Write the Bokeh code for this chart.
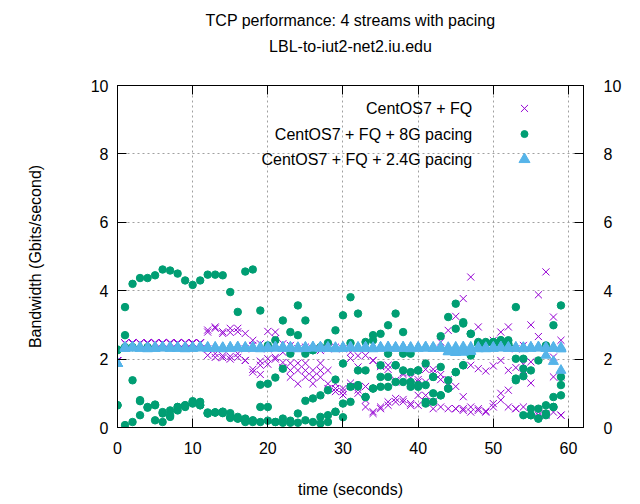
from bokeh.plotting import figure
from bokeh.models import Label, LinearAxis, Range1d, FixedTicker, ColumnDataSource, Title
from bokeh.embed import file_html
from bokeh.resources import INLINE

# ---------------- data ----------------
time = list(range(60))

fq_s1 = [1.95, 2.47, 2.47, 2.46, 2.47, 2.48, 2.47, 2.46, 2.47, 2.47, 2.48, 2.47,
         2.79, 2.94, 2.80, 2.78, 2.90, 2.75, 2.55, 2.45, 2.81, 2.60,
         2.45, 2.40, 2.30, 2.35, 2.30, 2.25, 2.30, 2.35, 2.30, 2.02,
         1.77, 2.11, 1.96, 1.78, 1.82, 1.38, 1.55, 1.45, 1.33, 1.70,
         1.60, 2.50, 2.84, 3.25, 3.77, 4.40, 2.94, 2.45, 2.55, 2.79,
         2.94, 2.30, 2.40, 3.00, 3.88, 4.55, 3.23, 2.55]
fq_s2 = [1.95, 2.47, 2.47, 2.47, 2.46, 2.47, 2.47, 2.48, 2.47, 2.47, 2.46, 2.47,
         2.11, 2.16, 2.04, 2.08, 2.16, 1.96, 1.62, 1.82, 2.01, 2.00,
         1.90, 1.88, 1.67, 1.88, 1.47, 1.67, 1.28, 1.14, 1.05, 1.20,
         1.00, 0.80, 0.41, 0.55, 0.65, 0.75, 0.82, 0.70, 0.65, 0.94,
         0.75, 0.60, 0.55, 0.55, 0.55, 0.60, 0.50, 0.45, 0.60, 0.80,
         1.09, 0.55, 0.60, 0.50, 0.45, 0.36, 0.45, 0.36]
fq_s3 = [1.95, 2.46, 2.47, 2.47, 2.47, 2.47, 2.46, 2.47, 2.47, 2.48, 2.47, 2.47,
         2.85, 2.90, 2.75, 2.90, 2.80, 2.30, 2.40, 1.94, 2.30, 2.79,
         2.20, 1.67, 1.88, 1.47, 1.67, 1.88, 1.67, 1.28, 1.14, 1.30,
         1.10, 1.20, 1.96, 1.82, 1.70, 1.33, 1.60, 1.25, 1.40, 1.33,
         1.70, 1.55, 1.40, 1.20, 0.90, 1.82, 1.72, 1.65, 1.80, 1.96,
         1.67, 1.75, 1.85, 1.92, 2.66, 2.20, 2.06, 1.48]
fq_s4 = [1.95, 2.47, 2.48, 2.47, 2.47, 2.46, 2.47, 2.47, 2.46, 2.47, 2.47, 2.48,
         2.30, 2.05, 2.10, 2.00, 2.05, 1.96, 1.70, 1.55, 1.85, 2.05,
         1.75, 1.47, 1.28, 1.67, 1.28, 1.47, 1.14, 1.05, 0.95, 2.20,
         2.10, 0.60, 0.46, 0.60, 0.75, 0.85, 0.75, 0.65, 0.94, 0.75,
         0.55, 1.40, 1.30, 0.55, 0.50, 0.45, 0.55, 0.48, 0.70, 1.00,
         0.60, 0.55, 1.67, 1.30, 0.36, 0.40, 1.48, 0.36]

p8_s1 = [2.28, 3.52, 4.20, 4.37, 4.37, 4.45, 4.62, 4.59, 4.50, 4.30,
         4.17, 4.30, 4.47, 4.47, 4.45, 3.96, 3.38, 4.56, 4.62, 3.42,
         2.40, 2.55, 3.13, 2.79, 3.57, 3.13, 2.26, 2.35, 2.47, 2.84,
         3.28, 3.81, 3.33, 2.50, 2.55, 2.74, 2.99, 3.33, 2.79, 2.16,
         1.67, 1.87, 1.48, 2.67, 3.23, 3.62, 3.08, 2.74, 2.45, 2.45,
         2.45, 2.45, 2.55, 3.52, 2.01, 1.67, 1.96, 2.40, 2.99, 3.57]
p8_s2 = [0.65, 0.07, 0.16, 0.36, 0.60, 0.21, 0.16, 0.31, 0.50, 0.60,
         0.75, 0.65, 0.41, 0.44, 0.46, 0.31, 0.26, 0.16, 0.16, 0.16,
         0.20, 0.16, 0.14, 0.20, 0.14, 0.21, 0.16, 0.12, 0.16, 0.46,
         0.70, 1.19, 1.24, 0.89, 1.14, 1.19, 1.48, 1.33, 1.33, 1.19,
         1.19, 0.70, 0.75, 0.94, 1.14, 1.62, 1.82, 2.11, 2.45, 2.45,
         2.50, 2.55, 2.40, 1.38, 0.36, 0.36, 0.26, 0.41, 0.60, 0.94]
p8_s3 = [2.26, 2.70, 1.38, 0.80, 0.58, 0.65, 0.41, 0.50, 0.60, 0.65,
         0.77, 0.65, 0.44, 0.44, 0.42, 0.28, 0.26, 0.21, 0.21, 0.60,
         1.28, 1.46, 1.72, 2.16, 2.70, 2.16, 2.26, 0.94, 1.09, 1.40,
         1.87, 2.47, 1.67, 1.67, 2.70, 1.82, 2.16, 1.82, 2.16, 1.33,
         1.67, 1.24, 1.48, 1.77, 1.38, 2.89, 3.04, 2.11, 2.50, 2.50,
         2.50, 2.55, 2.45, 1.43, 1.50, 0.55, 0.55, 0.65, 0.89, 1.24]
p8_s4 = [0.65, 2.35, 2.35, 0.77, 2.35, 0.67, 0.45, 0.36, 0.60, 0.65,
         0.70, 0.75, 0.41, 0.44, 0.46, 0.42, 0.31, 0.26, 0.20, 1.25,
         0.60, 0.16, 0.26, 0.14, 0.41, 0.78, 0.85, 0.31, 0.36, 0.46,
         0.30, 0.75, 1.20, 0.89, 1.14, 1.48, 1.19, 1.82, 1.67, 1.62,
         1.24, 0.75, 1.00, 0.94, 1.14, 1.62, 1.82, 2.74, 2.45, 2.45,
         2.45, 2.45, 2.40, 2.01, 1.72, 0.36, 0.26, 0.36, 0.60, 1.48]

p24_s1 = [1.87, 2.33, 2.34, 2.33, 2.32, 2.33, 2.34, 2.33, 2.33, 2.32,
          2.33, 2.34, 2.33, 2.33, 2.32, 2.33, 2.34, 2.33, 2.33, 2.32,
          2.33, 2.34, 2.35, 2.33, 2.32, 2.33, 2.34, 2.35, 2.33, 2.32,
          2.33, 2.34, 2.33, 2.35, 2.32, 2.33, 2.34, 2.33, 2.35, 2.32,
          2.33, 2.34, 2.33, 2.33, 2.22, 2.20, 2.21, 2.22, 2.30, 2.32,
          2.33, 2.34, 2.33, 2.33, 2.32, 2.33, 2.34, 2.11, 1.93, 1.67]
p24_s2 = [1.87, 2.31, 2.32, 2.31, 2.30, 2.31, 2.32, 2.31, 2.31, 2.30,
          2.31, 2.32, 2.31, 2.31, 2.30, 2.31, 2.32, 2.31, 2.31, 2.30,
          2.31, 2.32, 2.31, 2.31, 2.30, 2.31, 2.32, 2.31, 2.31, 2.30,
          2.31, 2.32, 2.31, 2.31, 2.30, 2.31, 2.32, 2.31, 2.31, 2.30,
          2.31, 2.32, 2.31, 2.31, 2.30, 2.31, 2.32, 2.31, 2.31, 2.30,
          2.31, 2.32, 2.31, 2.31, 2.30, 2.31, 2.32, 2.31, 2.31, 2.30]
p24_s3 = [1.87, 2.35, 2.36, 2.35, 2.34, 2.35, 2.36, 2.35, 2.35, 2.34,
          2.35, 2.36, 2.35, 2.35, 2.34, 2.35, 2.36, 2.35, 2.35, 2.34,
          2.35, 2.36, 2.35, 2.35, 2.34, 2.35, 2.36, 2.35, 2.35, 2.34,
          2.35, 2.36, 2.35, 2.35, 2.34, 2.35, 2.36, 2.35, 2.35, 2.34,
          2.35, 2.36, 2.35, 2.35, 2.34, 2.35, 2.36, 2.35, 2.35, 2.34,
          2.35, 2.36, 2.35, 2.35, 2.34, 2.35, 2.36, 2.35, 2.35, 2.34]
p24_s4 = [1.87, 2.32, 2.33, 2.34, 2.33, 2.32, 2.33, 2.34, 2.33, 2.32,
          2.33, 2.34, 2.33, 2.32, 2.33, 2.34, 2.33, 2.32, 2.33, 2.34,
          2.33, 2.32, 2.33, 2.34, 2.33, 2.32, 2.33, 2.34, 2.33, 2.32,
          2.33, 2.34, 2.33, 2.32, 2.33, 2.34, 2.33, 2.32, 2.33, 2.34,
          2.33, 2.32, 2.33, 2.34, 2.21, 2.19, 2.20, 2.24, 2.33, 2.32,
          2.33, 2.34, 2.33, 2.32, 2.33, 2.34, 2.33, 2.32, 2.33, 2.30]

series_names = ["CentOS7 + FQ", "CentOS7 + FQ + 8G pacing", "CentOS7 + FQ + 2.4G pacing"]
x_ticks = [0, 10, 20, 30, 40, 50, 60]
y_ticks = [0, 2, 4, 6, 8, 10]
title_lines = ["TCP performance: 4 streams with pacing", "LBL-to-iut2-net2.iu.edu"]
x_label = "time (seconds)"
y_label = "Bandwidth (Gbits/second)"

# ---------------- styles ----------------
FONT = "Liberation Sans"
C_FQ = "#9400d3"
C_8G = "#009e73"
C_24 = "#56b4e9"

p = figure(width=640, height=504, output_backend="svg", toolbar_location=None,
           x_range=Range1d(0, 62), y_range=Range1d(0, 10), title_location=None,
           min_border_left=117, min_border_right=57, min_border_top=85, min_border_bottom=77,
           background_fill_color="white", border_fill_color="white")
p.outline_line_color = "black"
p.outline_line_width = 1
p.outline_line_alpha = 1

bottom_axis = p.below[0]
left_axis = p.left[0]


def stack(*streams):
    xs, ys = [], []
    for s in streams:
        xs += time[:len(s)]
        ys += s
    return ColumnDataSource(dict(x=xs, y=ys))


src_fq = stack(fq_s1, fq_s2, fq_s3, fq_s4)
src_8g = stack(p8_s1, p8_s2, p8_s3, p8_s4)
src_24 = stack(p24_s1, p24_s2, p24_s3, p24_s4)

p.scatter("x", "y", source=src_fq, marker="x", size=10, line_color=C_FQ, line_width=1)
p.scatter("x", "y", source=src_8g, marker="circle", size=7.5, fill_color=C_8G, line_color=C_8G)
p.scatter("x", "y", source=src_24, marker="triangle", size=10, fill_color=C_24, line_color=C_24)

# axes
bottom_axis.ticker = FixedTicker(ticks=x_ticks)
left_axis.ticker = FixedTicker(ticks=y_ticks)
p.xgrid.ticker = FixedTicker(ticks=x_ticks)
p.ygrid.ticker = FixedTicker(ticks=y_ticks)

top_axis = LinearAxis(ticker=FixedTicker(ticks=x_ticks))
right_axis = LinearAxis(ticker=FixedTicker(ticks=y_ticks))
p.add_layout(top_axis, "above")
p.add_layout(right_axis, "right")

for ax in [bottom_axis, left_axis, top_axis, right_axis]:
    ax.major_tick_in = 9
    ax.major_tick_out = 0
    ax.minor_tick_line_color = None
    ax.axis_line_color = "black"
    ax.major_tick_line_color = "black"
    ax.major_label_text_font = FONT
    ax.major_label_text_font_size = "16px"
    ax.major_label_text_color = "black"

# top axis: mirrored ticks only (no tick labels); it carries the 2nd title line
top_axis.major_label_text_color = None
top_axis.major_label_standoff = 0

bottom_axis.major_label_standoff = 14
left_axis.major_label_standoff = 9
right_axis.major_label_standoff = 20

bottom_axis.axis_label = x_label
left_axis.axis_label = y_label
top_axis.axis_label = title_lines[1]
for ax, st in [(bottom_axis, 24), (left_axis, 44), (top_axis, 31)]:
    ax.axis_label_text_font = FONT
    ax.axis_label_text_font_size = "16px"
    ax.axis_label_text_font_style = "normal"
    ax.axis_label_text_color = "black"
    ax.axis_label_standoff = st

for g in [p.xgrid, p.ygrid]:
    g.grid_line_color = "#a0a0a0"
    g.grid_line_dash = "2 3"
    g.grid_line_width = 1

# first title line above the top axis
p.add_layout(Title(text=title_lines[0], align="center", text_font=FONT, text_font_size="16px",
                   text_font_style="normal", text_color="black", standoff=12), "above")

# legend (gnuplot-style: text right aligned, symbol to the right)
leg_text_x = 47.2
leg_mark_x = 54.15
leg_rows = [9.33, 8.58, 7.84]
for name, yy in zip(series_names, leg_rows):
    p.add_layout(Label(x=leg_text_x, y=yy, text=name, text_align="right", text_baseline="middle",
                       text_font=FONT, text_font_size="16px", text_color="black"))
p.scatter([leg_mark_x], [leg_rows[0]], marker="x", size=10, line_color=C_FQ, line_width=1)
p.scatter([leg_mark_x], [leg_rows[1]], marker="circle", size=7, fill_color=C_8G, line_color=C_8G)
p.scatter([leg_mark_x], [leg_rows[2]], marker="triangle", size=11, fill_color=C_24, line_color=C_24)

open("out.html", "w").write(file_html(p, INLINE))
